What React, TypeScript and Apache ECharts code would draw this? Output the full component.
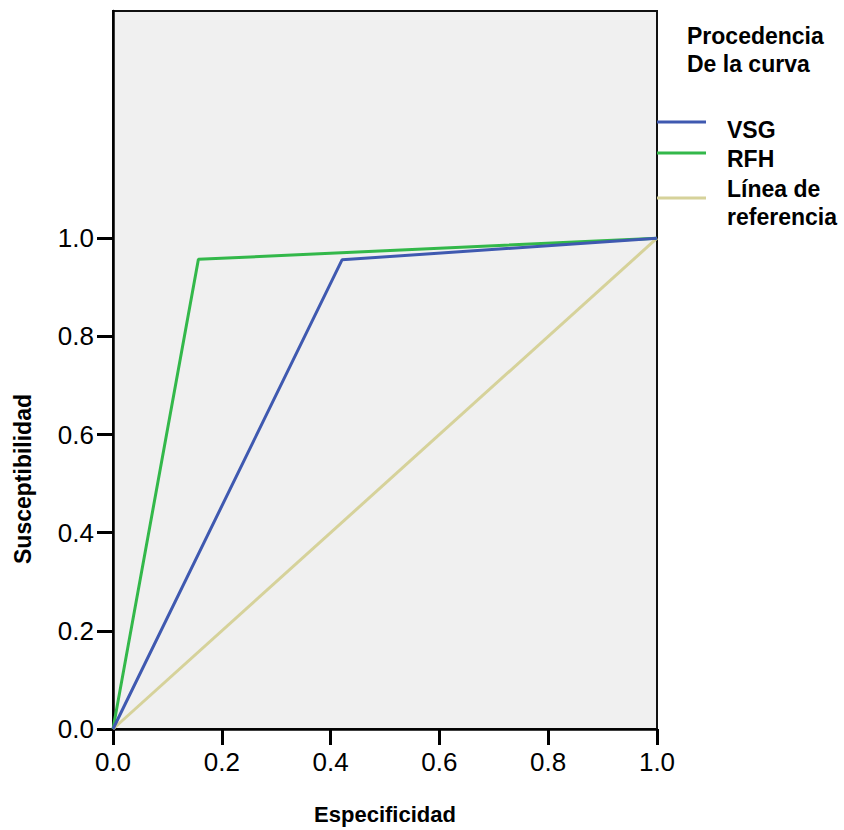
import React, { useEffect, useRef } from "react";
import * as echarts from "echarts";

const seriesNames = ["VSG", "RFH", "Línea de referencia"];
const legendLabels = ["VSG", "RFH", "Línea de\nreferencia"];
const seriesColors = ["#3f59b0", "#33b84a", "#d6d29a"];
const vsgPoints: [number, number][] = [
  [0, 0],
  [0.421, 0.956],
  [1, 1],
];
const rfhPoints: [number, number][] = [
  [0, 0],
  [0.157, 0.957],
  [1, 1],
];
const refPoints: [number, number][] = [
  [0, 0],
  [1, 1],
];
const tickValues = [0, 0.2, 0.4, 0.6, 0.8, 1.0];
const xAxisTitle = "Especificidad";
const yAxisTitle = "Susceptibilidad";
const legendTitle = "Procedencia\nDe la curva";

const FONT = "'Liberation Sans', Arial, sans-serif";

export default function App() {
  const ref = useRef<HTMLDivElement>(null);
  useEffect(() => {
    if (!ref.current) return;
    const chart = echarts.init(ref.current, undefined, { renderer: "svg" });
    const data = [vsgPoints, rfhPoints, refPoints];
    const legendY = [122, 153, 198];
    const legendTextY = [129.5, 159, 203];
    const graphics: any[] = [
      {
        type: "text",
        x: 23,
        y: 479,
        rotation: Math.PI / 2,
        style: {
          text: yAxisTitle,
          font: `bold 23px ${FONT}`,
          fill: "#000",
          align: "center",
          verticalAlign: "middle",
        },
      },
      {
        type: "text",
        x: 687,
        y: 22,
        style: {
          text: legendTitle,
          font: `bold 23px ${FONT}`,
          lineHeight: 28,
          fill: "#000",
          align: "left",
          verticalAlign: "top",
        },
      },
    ];
    seriesNames.forEach((n, i) => {
      graphics.push({
        type: "line",
        shape: { x1: 657, y1: legendY[i], x2: 706, y2: legendY[i] },
        style: { stroke: seriesColors[i], lineWidth: 2.8 },
      });
      graphics.push({
        type: "text",
        x: 727,
        y: legendTextY[i],
        style: {
          text: legendLabels[i],
          font: `bold 23px ${FONT}`,
          lineHeight: 28,
          fill: "#000",
          align: "left",
          verticalAlign: "middle",
        },
      });
    });
    chart.setOption({
      animation: false,
      backgroundColor: "#ffffff",
      textStyle: { fontFamily: FONT },
      grid: {
        left: 113,
        right: 187,
        top: 11,
        bottom: 98,
        show: true,
        backgroundColor: "#f0f0f0",
        borderColor: "#111",
        borderWidth: 2,
      },
      xAxis: {
        type: "value",
        min: 0,
        max: 1,
        interval: 0.2,
        name: xAxisTitle,
        nameLocation: "middle",
        nameGap: 74,
        nameTextStyle: { fontSize: 22, fontWeight: "bold", color: "#000", fontFamily: FONT },
        axisLine: { show: true, lineStyle: { color: "#000", width: 2.5 } },
        axisTick: { show: true, length: 16, lineStyle: { color: "#000", width: 3 } },
        axisLabel: {
          margin: 20,
          fontSize: 26,
          color: "#000",
          fontFamily: FONT,
          formatter: (v: number) => v.toFixed(1),
        },
        splitLine: { show: false },
      },
      yAxis: {
        type: "value",
        min: 0,
        max: 1.463,
        axisLine: { show: true, lineStyle: { color: "#000", width: 2.5 } },
        axisTick: {
          show: true,
          length: 16,
          customValues: tickValues,
          lineStyle: { color: "#000", width: 3 },
        },
        axisLabel: {
          margin: 19,
          fontSize: 26,
          color: "#000",
          fontFamily: FONT,
          customValues: tickValues,
          formatter: (v: number) => v.toFixed(1),
        },
        splitLine: { show: false },
      },
      series: seriesNames.map((n, i) => ({
        name: n,
        type: "line",
        data: data[i],
        showSymbol: false,
        symbol: "none",
        lineStyle: { color: seriesColors[i], width: 3 },
        itemStyle: { color: seriesColors[i] },
        z: 10 - i,
      })),
      graphic: graphics,
    });
    return () => chart.dispose();
  }, []);
  return (
    <div
      ref={ref}
      style={{ position: "fixed", left: 0, top: 0, width: 844, height: 830 }}
    />
  );
}
